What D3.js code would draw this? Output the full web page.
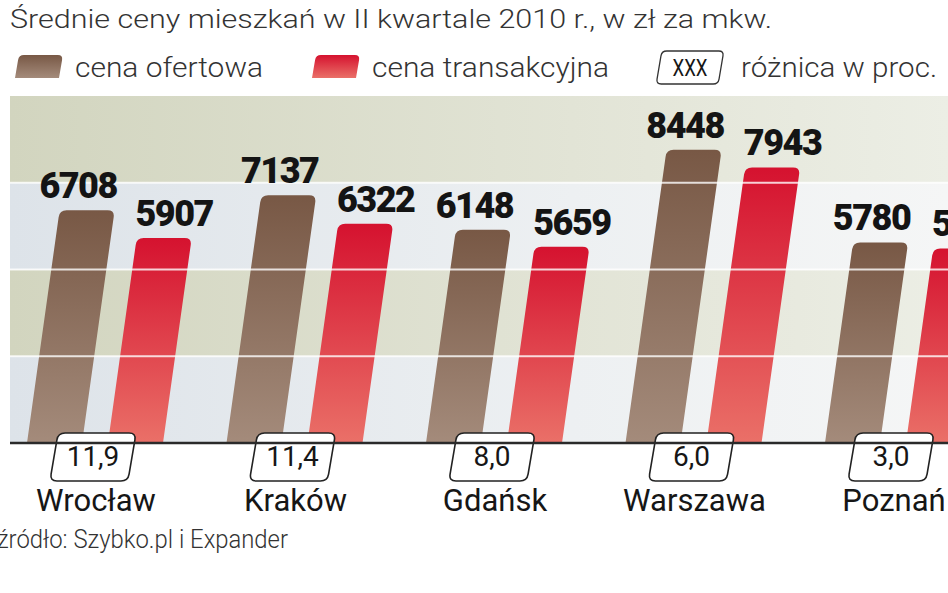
<!DOCTYPE html>
<html>
<head>
<meta charset="utf-8">
<script src="https://cdn.jsdelivr.net/npm/d3@7"></script>
<style>
  html, body { margin: 0; padding: 0; background: #fff; overflow: hidden; }
  text { font-family: Roboto, "DejaVu Sans", sans-serif; }
</style>
</head>
<body>
<div id="chart"></div>
<script>

// data
const cities = ['Wrocław', 'Kraków', 'Gdańsk', 'Warszawa', 'Poznań']
const offerPrices = [6708, 7137, 6148, 8448, 5780]
const transactionPrices = [5907, 6322, 5659, 7943, 5607]
const diffPercent = ['11,9', '11,4', '8,0', '6,0', '3,0']
const seriesNames = ['cena ofertowa', 'cena transakcyjna']
const bandTicks = [0, 2500, 5000, 7500, 10000]

const title = 'Średnie ceny mieszkań w II kwartale 2010 r., w zł za mkw.'
const source = 'źródło: Szybko.pl i Expander'

width = 948
height = 593
baseY = 443
slope = 0.14

const rows = cities.map((c, i) => ({
    city: c,
    diff: diffPercent[i],
    values: [
        { key: seriesNames[0], value: offerPrices[i] },
        { key: seriesNames[1], value: transactionPrices[i] }
    ]
}))

const svg = d3.select('#chart')
    .append('svg')
    .attr('width', width)
    .attr('height', height)

const defs = svg.append('defs')

function linGrad(id, x1, y1, x2, y2, stops) {
    const g = defs.append('linearGradient').attr('id', id)
        .attr('x1', x1).attr('y1', y1).attr('x2', x2).attr('y2', y2)
    stops.forEach(s => g.append('stop').attr('offset', s[0]).attr('stop-color', s[1]))
}
linGrad('bandA', 0, 0, 1, 0, [[0, '#d2d5bf'], [0.6, '#e2e4d6'], [1, '#eceee5']])
linGrad('bandB', 0, 0, 1, 0, [[0, '#dde3e9'], [0.6, '#edf0f2'], [1, '#f5f6f6']])
linGrad('brownGrad', 0, 0, 0, 1, [[0, '#785845'], [1, '#a48b7b']])
linGrad('redGrad', 0, 0, 0, 1, [[0, '#d5122f'], [1, '#ea7068']])

// scales
const x = d3.scaleBand()
    .domain(cities)
    .range([27, 27 + 5 * 199.5])

const xInner = d3.scaleBand()
    .domain(seriesNames)
    .range([0, 136])
    .paddingInner(0.32)

const y = d3.scaleLinear()
    .domain([0, 10000])
    .range([baseY, 96])

const color = d3.scaleOrdinal()
    .domain(seriesNames)
    .range(['url(#brownGrad)', 'url(#redGrad)'])

// rounded polygon helper
function roundedPath(pts, radii) {
    let d = ''
    const n = pts.length
    pts.forEach((p, i) => {
        const r = radii[i]
        const prev = pts[(i - 1 + n) % n], next = pts[(i + 1) % n]
        const l1 = Math.hypot(prev[0] - p[0], prev[1] - p[1])
        const l2 = Math.hypot(next[0] - p[0], next[1] - p[1])
        const a = [p[0] + (prev[0] - p[0]) * r / l1, p[1] + (prev[1] - p[1]) * r / l1]
        const b = [p[0] + (next[0] - p[0]) * r / l2, p[1] + (next[1] - p[1]) * r / l2]
        d += (i === 0 ? 'M' : 'L') + a[0] + ',' + a[1] + 'Q' + p[0] + ',' + p[1] + ' ' + b[0] + ',' + b[1]
    })
    return d + 'Z'
}

function barPath(x0, w, top, bottom, s, r) {
    const dx = s * (bottom - top)
    return roundedPath([
        [x0, bottom], [x0 + w, bottom], [x0 + w + dx, top], [x0 + dx, top]
    ], [0, 0, r, r])
}

function boxPath(cx, top, bottom, w, s, r) {
    const dx = s * (bottom - top) / 2
    return roundedPath([
        [cx - w / 2 - dx, bottom], [cx + w / 2 - dx, bottom],
        [cx + w / 2 + dx, top], [cx - w / 2 + dx, top]
    ], [r, r, r, r])
}

// background bands
const bands = bandTicks.slice(0, -1).map((t, i) => [t, bandTicks[i + 1]])
svg.append('g')
    .selectAll('rect')
    .data(bands)
    .enter()
    .append('rect')
    .attr('x', 10)
    .attr('y', d => y(d[1]))
    .attr('width', width - 10)
    .attr('height', d => y(d[0]) - y(d[1]))
    .attr('fill', (d, i) => i % 2 === 0 ? 'url(#bandB)' : 'url(#bandA)')

// bars
const groups = svg.append('g')
    .selectAll('g')
    .data(rows)
    .enter()
    .append('g')
    .attr('transform', d => 'translate(' + x(d.city) + ',0)')

groups.selectAll('path')
    .data(d => d.values)
    .enter()
    .append('path')
    .attr('d', d => barPath(xInner(d.key), xInner.bandwidth(), y(d.value), baseY, slope, 7))
    .attr('fill', d => color(d.key))

// white grid lines over bars
svg.append('g')
    .selectAll('line')
    .data(bandTicks.slice(1, -1))
    .enter()
    .append('line')
    .attr('x1', 10)
    .attr('x2', width)
    .attr('y1', d => y(d))
    .attr('y2', d => y(d))
    .attr('stroke', '#fff')
    .attr('stroke-opacity', 0.8)
    .attr('stroke-width', 2)

// value labels (above the grid lines)
const labelGroups = svg.append('g')
    .selectAll('g')
    .data(rows)
    .enter()
    .append('g')
    .attr('transform', d => 'translate(' + x(d.city) + ',0)')

labelGroups.selectAll('text')
    .data(d => d.values)
    .enter()
    .append('text')
    .attr('x', (d, i) => xInner(d.key) + xInner.bandwidth() / 2 + slope * (baseY - y(d.value)) + (i === 0 ? -9 : 10))
    .attr('y', d => y(d.value) - 12)
    .attr('text-anchor', 'middle')
    .attr('font-size', 36)
    .attr('font-weight', 900)
    .attr('letter-spacing', -1.5)
    .attr('fill', '#141414')
    .text(d => d.value)

// axis line
svg.append('line')
    .attr('x1', 10).attr('x2', width)
    .attr('y1', baseY).attr('y2', baseY)
    .attr('stroke', '#2a2a2a')
    .attr('stroke-width', 2.5)

// difference boxes and city names
const centers = labelGroups.append('g')
    .attr('transform', 'translate(66,0)')

centers.append('path')
    .attr('d', boxPath(0, 433, 481, 78, 0.17, 7))
    .attr('fill', '#fff')
    .attr('stroke', '#222')
    .attr('stroke-width', 1.6)

centers.append('text')
    .attr('x', 0)
    .attr('y', 466)
    .attr('text-anchor', 'middle')
    .attr('font-size', 28)
    .attr('fill', '#161616')
    .text(d => d.diff)

centers.append('text')
    .attr('x', 3)
    .attr('y', 511)
    .attr('text-anchor', 'middle')
    .attr('font-size', 31)
    .attr('fill', '#161616')
    .text(d => d.city)

// title
svg.append('text')
    .attr('x', 10).attr('y', 28)
    .attr('font-size', 25)
    .attr('font-weight', 300)
    .attr('fill', '#333')
    .attr('textLength', 762)
    .attr('lengthAdjust', 'spacingAndGlyphs')
    .text(title)

// legend
const legend = svg.append('g')
legend.selectAll('path')
    .data(seriesNames)
    .enter()
    .append('path')
    .attr('d', (d, i) => barPath([15, 312][i], 44, 55, 78, 0.17, 5))
    .attr('fill', d => color(d))

legend.selectAll('text')
    .data(seriesNames)
    .enter()
    .append('text')
    .attr('x', (d, i) => [75, 372][i])
    .attr('y', 77)
    .attr('font-size', 28)
    .attr('font-weight', 300)
    .attr('fill', '#333')
    .attr('textLength', (d, i) => [188, 237][i])
    .attr('lengthAdjust', 'spacingAndGlyphs')
    .text(d => d)

legend.append('path')
    .attr('d', boxPath(690, 51, 84, 62, 0.17, 5))
    .attr('fill', '#fff')
    .attr('stroke', '#333')
    .attr('stroke-width', 1.3)

legend.append('text')
    .attr('x', 690).attr('y', 76)
    .attr('text-anchor', 'middle')
    .attr('font-size', 24)
    .attr('fill', '#161616')
    .attr('textLength', 35)
    .attr('lengthAdjust', 'spacingAndGlyphs')
    .text('XXX')

legend.append('text')
    .attr('x', 741).attr('y', 77)
    .attr('font-size', 28)
    .attr('font-weight', 300)
    .attr('fill', '#333')
    .attr('textLength', 196)
    .attr('lengthAdjust', 'spacingAndGlyphs')
    .text('różnica w proc.')

// source
svg.append('text')
    .attr('x', -3).attr('y', 548)
    .attr('font-size', 25)
    .attr('font-weight', 300)
    .attr('fill', '#333')
    .attr('textLength', 291)
    .attr('lengthAdjust', 'spacingAndGlyphs')
    .text(source)

</script>
</body>
</html>
